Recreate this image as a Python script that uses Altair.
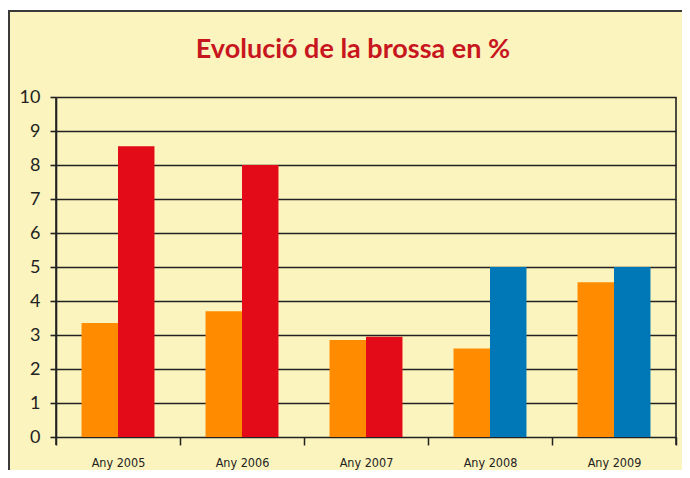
import altair as alt
import pandas as pd

title_text = ["Evolució de la brossa en %"]
years = ["Any 2005", "Any 2006", "Any 2007", "Any 2008", "Any 2009"]
first_values = [3.35, 3.7, 2.85, 2.6, 4.55]
second_values = [8.55, 8.0, 2.95, 5.0, 5.0]
first_colors = ["#FF8C00"] * 5
second_colors = ["#E30B17", "#E30B17", "#E30B17", "#0077B6", "#0077B6"]
y_ticks = list(range(0, 11))

rows = []
for i, y in enumerate(years):
    rows.append({"year": y, "series": "a", "value": first_values[i], "color": first_colors[i]})
    rows.append({"year": y, "series": "b", "value": second_values[i], "color": second_colors[i]})
df = pd.DataFrame(rows)

W, H = 620, 340
PL, PT, PR, PB = 48, 89, 6, 33

bars = alt.Chart(df).mark_bar().encode(
    x=alt.X("year:N", sort=years, title=None,
            scale=alt.Scale(paddingInner=0, paddingOuter=0),
            axis=alt.Axis(labelAngle=0, tickBand="extent", domain=False,
                          ticks=True, tickSize=8, tickColor="#222", tickWidth=1.5,
                          labelFont="Liberation Sans Narrow, DejaVu Sans Condensed, Liberation Sans, sans-serif",
                          labelFontSize=12.5, labelColor="#222", labelPadding=11, grid=False)),
    xOffset=alt.XOffset("series:N", scale=alt.Scale(paddingInner=0, paddingOuter=0.7)),
    y=alt.Y("value:Q", title=None,
            scale=alt.Scale(domain=[0, 10], nice=False),
            axis=alt.Axis(values=y_ticks, grid=True, gridColor="#222", gridWidth=1.6,
                          domain=True, domainColor="#222", domainWidth=1.6,
                          tickSize=6, tickColor="#222", tickWidth=1.6,
                          labelFont="Lato", labelFontSize=18, labelColor="#222",
                          labelPadding=10)),
    color=alt.Color("color:N", scale=None),
)

one = pd.DataFrame({"k": [0]})
right_line = alt.Chart(one).mark_rule(color="#222", strokeWidth=1.6).encode(
    x=alt.value(W), y=alt.value(0), y2=alt.value(H + 8)
)
left_axis_ext = alt.Chart(one).mark_rule(color="#222", strokeWidth=1.6).encode(
    x=alt.value(0), y=alt.value(0), y2=alt.value(H + 8)
)
top_white = alt.Chart(one).mark_rect(color="white").encode(
    x=alt.value(-PL), x2=alt.value(W + PR), y=alt.value(-PT), y2=alt.value(-PT + 2)
)
frame_top = alt.Chart(one).mark_rule(color="#3a3a3a", strokeWidth=2).encode(
    x=alt.value(-PL), x2=alt.value(W + PR), y=alt.value(-PT + 3), y2=alt.value(-PT + 3)
)
frame_left = alt.Chart(one).mark_rule(color="#3a3a3a", strokeWidth=2).encode(
    x=alt.value(-PL + 1), y=alt.value(-PT + 2), y2=alt.value(H + PB)
)
title = alt.Chart(pd.DataFrame({"t": title_text})).mark_text(
    font="Lato", fontSize=27, fontWeight="bold", color="#C8161E",
    align="center", baseline="alphabetic"
).encode(text="t:N", x=alt.value(297), y=alt.value(-39))

chart = alt.layer(top_white, frame_top, frame_left, bars, right_line, left_axis_ext, title).properties(
    width=W, height=H,
    autosize=alt.AutoSizeParams(type="none"),
    padding={"left": PL, "top": PT, "right": PR, "bottom": PB},
).configure(background="#FBF4BE").configure_view(stroke=None)

chart.save("out.html", embed_options={"renderer": "svg", "actions": False})
